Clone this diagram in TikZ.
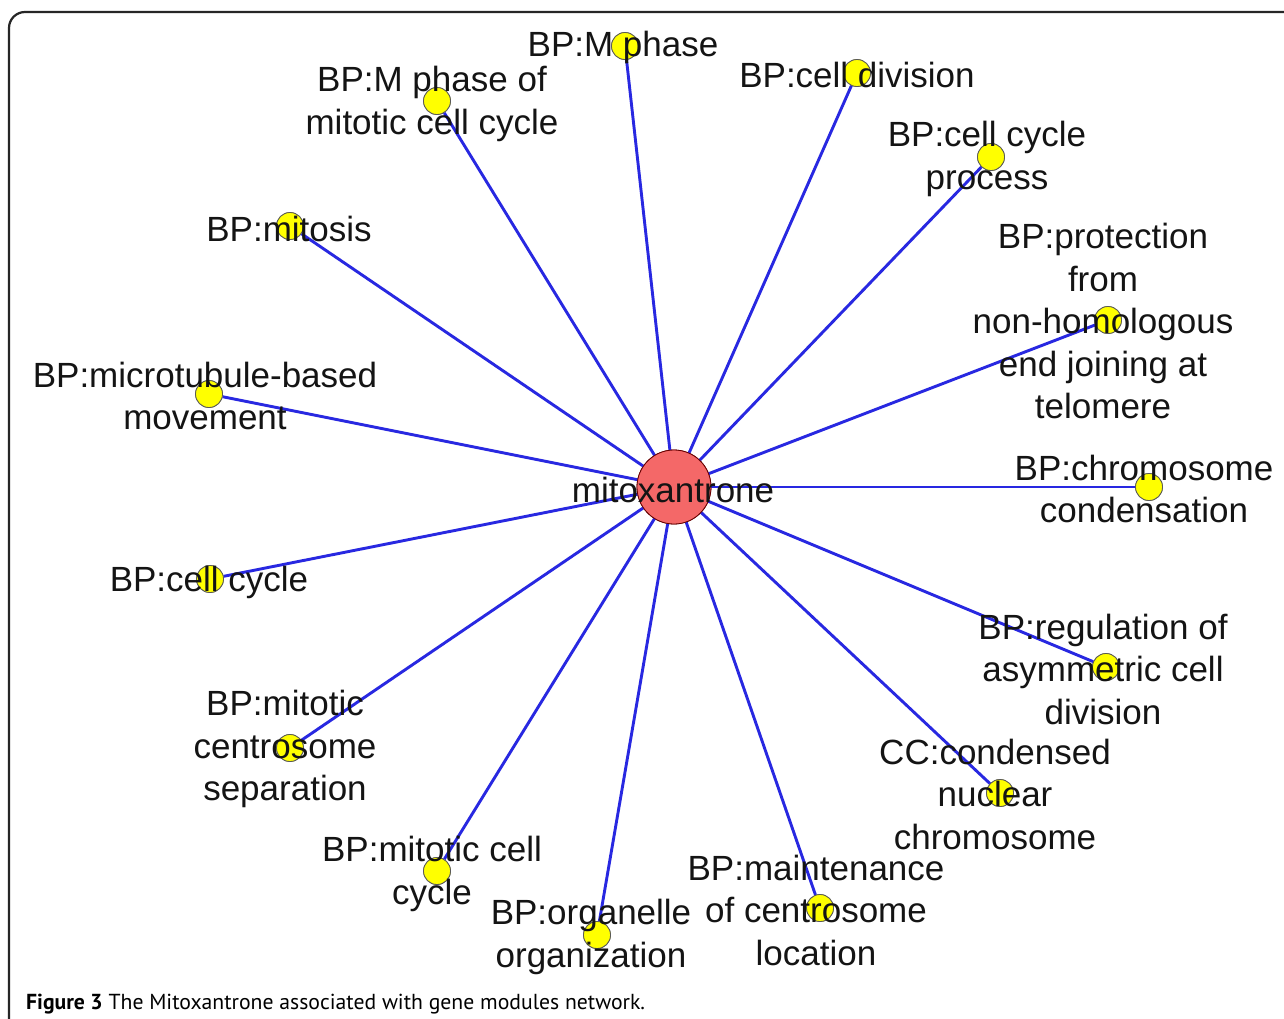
\documentclass[tikz,border=0pt]{standalone}
\usepackage{fontspec}
\setmainfont{Liberation Sans}
\newfontfamily\capfont{PT Sans}
\definecolor{edgeblue}{RGB}{40,40,225}
\definecolor{hubred}{RGB}{244,104,104}
\definecolor{termyellow}{RGB}{255,255,0}
\begin{document}
\begin{tikzpicture}[x=1pt,y=-1pt,
  edge/.style={draw=edgeblue,line width=2.9pt},
  term/.style={circle,draw=black!65,fill=termyellow,minimum size=27pt,inner sep=0pt,line width=0.8pt},
  hub/.style={circle,draw=black!60!red,fill=hubred,minimum size=74pt,inner sep=0pt,line width=0.8pt},
  lbl/.style={align=center,font=\fontsize{35}{42.5}\selectfont,inner sep=0pt,text=black!92}]
\useasboundingbox (0,0) rectangle (1284,1018);
\fill[white] (0,0) rectangle (1284,1018);
\draw[line width=2.2pt,black!85,rounded corners=16pt] (9,1040) -- (9,12) -- (1310,12);

% hub
\node[hub] (hub) at (674,487) {};

% terminal nodes
\node[term] (n1) at (625,46) {};
\node[term] (n2) at (857,73) {};
\node[term] (n3) at (437,101) {};
\node[term] (n4) at (991,157) {};
\node[term] (n5) at (290,226) {};
\node[term] (n6) at (1108,320) {};
\node[term] (n7) at (209,394) {};
\node[term] (n8) at (1149,487) {};
\node[term] (n9) at (210,579) {};
\node[term] (n10) at (1106,667) {};
\node[term] (n11) at (290,748) {};
\node[term] (n12) at (1000,793) {};
\node[term] (n13) at (437,871) {};
\node[term] (n14) at (820,908) {};
\node[term] (n15) at (597,935) {};

% edges
\foreach \n in {n1,n2,n3,n4,n5,n6,n7,n8,n9,n10,n11,n12,n13,n14,n15}{
  \path[edge] (hub.center) -- (\n);
}
% redraw nodes on top of edges
\node[hub] at (hub.center) {};
\foreach \n in {n1,n2,n3,n4,n5,n6,n7,n8,n9,n10,n11,n12,n13,n14,n15}{
  \node[term] at (\n.center) {};
}

% labels
\node[lbl] (lhub) at (673,490) {mitoxantrone};
\node[lbl] (l1) at (623,47) {BP:M phase};
\node[lbl] (l2) at (857,75) {BP:cell division};
\node[lbl] (l3) at (432,104) {BP:M phase of\\mitotic cell cycle};
\node[lbl] (l4) at (987,159) {BP:cell cycle\\process};
\node[lbl] (l5) at (289,229) {BP:mitosis};
\node[lbl] (l6) at (1103,321) {BP:protection\\from\\non-homologous\\end joining at\\telomere};
\node[lbl] (l7) at (205,396) {BP:microtubule-based\\movement};
\node[lbl] (l8) at (1144,489) {BP:chromosome\\condensation};
\node[lbl] (l9) at (209,582) {BP:cell cycle};
\node[lbl] (l10) at (1103,669) {BP:regulation of\\asymmetric cell\\division};
\node[lbl] (l11) at (285,749) {BP:mitotic\\centrosome\\separation};
\node[lbl] (l12) at (995,794) {CC:condensed\\nuclear\\chromosome};
\node[lbl] (l13) at (432,874) {BP:mitotic cell\\cycle};
\node[lbl] (l14) at (816,910) {BP:maintenance\\of centrosome\\location};
\node[lbl] (l15) at (591,937) {BP:organelle\\organization};

% caption
\node[anchor=base west,inner sep=0pt,font=\capfont\fontsize{21.7}{26}\selectfont] (cap) at (26,1009)
  {\textbf{Figure 3} The Mitoxantrone associated with gene modules network.};
\end{tikzpicture}
\end{document}
